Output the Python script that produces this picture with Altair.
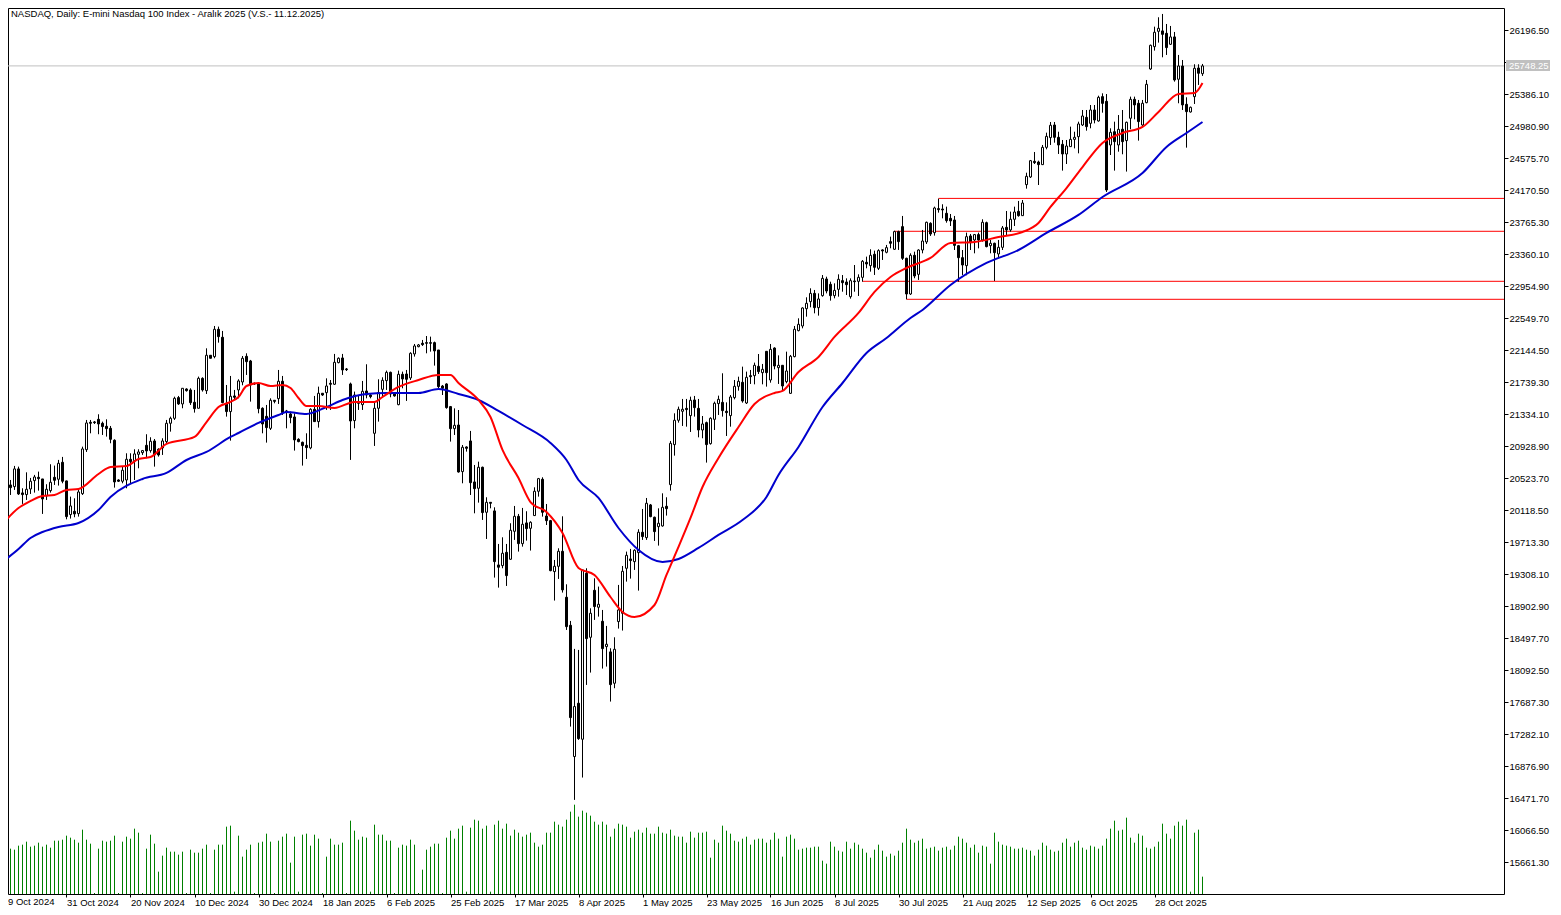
import altair as alt
import pandas as pd

highs = [
20470,20514,20505,20683,20674,20400,20602,20531,20569,20611,
20518,20451,20704,20687,20759,20797,20497,20294,20273,20387,
20927,21265,21265,21252,21337,21244,21273,21189,21020,20514,
20674,20843,20843,20894,20894,20885,21084,21046,21024,20906,
21033,21265,21307,21560,21569,21666,21666,21666,21645,21814,
21805,22172,22084,22455,22447,22392,21708,21822,21645,21780,
22075,22109,22025,21738,21738,21425,21455,21539,21514,21898,
21822,21392,21371,21349,21033,20991,21096,21413,21569,21687,
21603,21792,21771,22101,22058,22101,21923,21738,21624,21581,
21759,21970,21594,21484,21780,21805,21890,21877,21594,21890,
21877,21898,22122,22227,22227,22278,22328,22320,22257,22151,
21708,21729,21442,21412,21391,20948,20931,21126,20695,20737,
20674,20286,20222,20159,19695,19779,19695,19957,20176,20075,
20151,20109,19982,20412,20531,20539,20201,19999,19492,19640,
20045,19184,18720,18366,18353,19366,19387,18880,19260,19155,
18859,18657,18374,18513,19176,19416,19598,19632,19627,19881,
20138,20277,20201,20041,20146,20336,20286,20999,21349,21434,
21531,21531,21560,21569,21531,21315,21244,21299,21497,21573,
21856,21488,21581,21771,21813,21940,21877,21898,21991,22100,
21974,22138,22227,22185,22083,21961,22130,22088,22455,22552,
22691,22818,22932,22911,22868,23100,23079,23016,22995,23109,
23100,23058,23058,23227,23109,23290,23333,23426,23409,23426,
23426,23481,23586,23662,23662,23848,23320,23375,23396,23426,
23671,23776,23768,23966,24067,23996,23966,23873,23848,23481,
23417,23637,23620,23620,23637,23806,23776,23544,23510,23544,
23721,23911,23903,23966,24038,24050,24396,24557,24658,24548,
24747,24903,25038,25038,24915,24810,24810,24979,24915,25042,
25190,25190,25253,25253,25371,25401,25392,24958,25042,25126,
25190,25043,25359,25359,25317,25317,25570,26018,26245,26364,
26406,26279,26254,26178,25887,25823,25351,25233,25769,25769,
25773]

body_tops = [
20455,20455,20442,20645,20645,20341,20387,20489,20543,20539,
20518,20387,20476,20539,20716,20729,20493,20176,20109,20353,
20898,21227,21235,21240,21273,21223,21185,21159,21008,20505,
20628,20767,20767,20835,20860,20877,20944,20995,20999,20894,
20999,21223,21286,21539,21548,21666,21657,21645,21489,21792,
21792,22084,22084,22413,22413,22312,21476,21565,21569,21759,
22046,22071,22012,21729,21721,21413,21311,21514,21514,21755,
21755,21379,21341,21303,21020,20982,20944,21400,21400,21603,
21603,21695,21729,21995,22046,22050,21911,21721,21581,21497,
21628,21632,21581,21413,21611,21767,21868,21868,21594,21843,
21843,21847,22109,22202,22215,22236,22244,22244,22244,22151,
21695,21721,21434,21197,21201,20919,20923,20999,20480,20666,
20666,20222,20222,20113,19429,19577,19589,19868,20045,20045,
19944,19961,19969,20362,20522,20514,20049,19990,19412,19602,
19602,19020,18665,17636,17678,19366,19324,18817,19108,18931,
18716,18425,18328,18361,18859,19349,19551,19505,19615,19843,
19843,20210,20189,20033,19957,20159,20172,20969,21261,21400,
21400,21412,21514,21518,21412,21214,21231,21286,21476,21526,
21488,21375,21556,21691,21754,21742,21805,21826,21957,21944,
21906,22134,22159,22176,21957,21957,21885,22071,22413,22476,
22683,22742,22868,22868,22797,23058,23050,22982,22906,23046,
23029,23012,23029,23025,23071,23274,23261,23350,23363,23409,
23418,23447,23523,23650,23650,23713,23312,23350,23350,23417,
23531,23768,23755,23949,23941,23936,23882,23818,23797,23472,
23320,23586,23595,23612,23612,23768,23763,23502,23502,23451,
23696,23704,23806,23898,23907,24012,24350,24548,24540,24531,
24717,24856,24996,25000,24844,24755,24734,24818,24844,25013,
25114,25097,25190,25190,25350,25359,25300,24907,24915,24945,
24946,25034,25325,25325,25275,25275,25515,26009,26174,26224,
26191,26161,26115,26115,25747,25747,25262,25224,25718,25722,
25748]

body_bottoms = [
20282,20434,20408,20421,20328,20320,20320,20391,20497,20522,
20265,20303,20370,20501,20514,20489,20041,20067,20075,20079,
20332,20889,21223,21231,21214,21181,21155,21020,20480,20489,
20489,20505,20737,20750,20830,20851,20873,20877,20822,20822,
20911,20991,21223,21286,21468,21468,21636,21484,21408,21413,
21645,21636,22046,22067,22320,21484,21371,21371,21552,21645,
21746,22003,21708,21721,21408,21214,21168,21159,21501,21535,
21358,21362,21295,21012,20991,20940,20915,20911,21244,21244,
21581,21611,21717,21717,21991,21898,21902,21252,21257,21476,
21459,21581,21560,21096,21413,21653,21763,21594,21569,21459,
21784,21780,21797,22101,22193,22219,22236,22236,22139,21687,
21666,21421,21155,21155,20606,20611,20906,20471,20395,20400,
20092,20096,20210,19471,19400,19421,19294,19501,19855,19699,
19699,19889,19893,20054,20362,20096,19990,19357,19345,19412,
19113,18648,17496,17003,17230,17222,18496,18513,18902,18893,
18370,18395,17914,17931,18712,18817,19387,19484,19471,19585,
19788,19775,20041,19851,19914,19923,20142,20446,20953,21261,
21375,21396,21320,21421,21138,21138,20953,20965,21273,21472,
21383,21358,21320,21548,21691,21505,21480,21813,21826,21877,
21864,21864,21771,21948,21927,21695,21750,21602,22067,22396,
22455,22674,22763,22687,22687,22839,22898,22839,22839,22919,
23003,22978,22826,23016,23020,23071,23240,23219,23198,23185,
23405,23388,23502,23426,23523,23312,22860,22860,23088,23109,
23417,23519,23620,23637,23928,23924,23789,23785,23476,23320,
23227,23219,23510,23544,23544,23544,23460,23472,23384,23367,
23451,23671,23671,23806,23852,23852,24245,24342,24523,24498,
24498,24717,24840,24844,24747,24633,24633,24726,24818,24852,
25000,24979,25021,25063,25051,25274,24177,24747,24789,24747,
24789,24802,25085,25254,25043,25000,25283,25709,25992,26186,
26148,25980,26022,25570,25579,25254,25169,25165,25359,25655,
25650]

lows = [
20270,20315,20315,20379,20315,20202,20252,20328,20345,20370,
20075,20252,20345,20442,20434,20463,20007,20016,20033,20041,
20315,20860,21096,21214,21084,21075,21054,20970,20408,20480,
20463,20400,20463,20505,20653,20822,20780,20851,20674,20801,
20822,20970,21117,21265,21455,21413,21624,21455,21358,21413,
21624,21594,22046,22046,22244,21476,21307,21003,21518,21539,
21704,21835,21497,21708,21349,21096,20978,21138,21476,21468,
21328,21159,21223,20877,20982,20687,20771,20894,21244,21168,
21569,21392,21392,21708,21982,21835,21885,20759,21159,21392,
21392,21539,21539,20936,21244,21560,21645,21552,21560,21451,
21666,21506,21771,22067,22185,22202,22109,22130,21953,21666,
21581,21408,20991,21075,20598,20463,20864,20315,20083,20218,
19999,19758,20146,19269,19142,19387,19163,19492,19746,19598,
19661,19737,19611,20049,20294,20041,19935,19349,18978,19252,
19079,18606,17382,16454,17214,16737,17910,18066,18733,18775,
18117,18142,17699,17868,18623,18598,19218,19256,19366,19104,
19746,19746,20033,19733,19674,19914,20054,20370,20813,21231,
21189,21180,21113,21307,21045,21033,20725,20953,21138,21328,
21307,21062,21180,21526,21636,21484,21467,21721,21716,21847,
21716,21687,21737,21906,21721,21636,21729,21594,22058,22387,
22425,22573,22691,22615,22586,22826,22868,22776,22805,22826,
22889,22847,22801,22889,22835,23016,23185,23143,23101,23164,
23291,23375,23439,23418,23418,23291,22793,22848,23059,23038,
23375,23493,23595,23599,23890,23818,23763,23721,23417,23016,
23101,23097,23417,23375,23438,23523,23451,23375,23025,23312,
23417,23607,23649,23721,23839,23848,24194,24329,24506,24240,
24493,24692,24747,24776,24633,24422,24506,24726,24704,24641,
24987,24928,24958,25021,25042,25156,24152,24620,24422,24662,
24629,24410,24946,25072,24802,24988,25275,25697,25942,26043,
25857,25887,26013,25549,25275,25190,24713,25157,25266,25507,
25621]

directions = ("BBBWBBWWWB" "BWWBWBBWBW" "WWBBBBBBBB" "WWBWWWBWBB" "WWWWBWBBBW" "BWBWBBBWBW"
              "WBBBBBBWBW" "BBBBBBBWBW" "BWBWWBBBWB" "WBBWWWWBBW" "BBWWWBBBBB" "BBBWBWBBBW"
              "BWBBBWBWWB" "WBWWWBBBWW" "BBBWBWBWBW" "BWBWWWWBWW" "BWBBWWBWWW" "WBWBBWBWWW"
              "BBWWWBWBWB" "WBWBWBWWWW" "WWWBWWBBWW" "BBWBWWBWBW" "BWBWBBBWBW" "WWBWBBBBBB"
              "BWBWBWBWBW" "WBWWBWWWBB" "WWWBBBWWWW" "WBWBWBBWBW" "BWWBBWWWWW" "BBWBWBBWWB" "W")

volumes = [
148,148,136,133,145,148,157,142,145,154,142,148,139,160,160,163,175,169,163,154,
193,163,151,3,136,160,157,160,175,3,157,172,166,196,184,3,136,178,151,67,
115,139,127,127,118,127,3,133,124,124,136,148,3,133,148,148,202,205,7,175,
112,133,148,3,154,157,181,157,3,160,172,181,94,172,7,178,181,145,178,166,
3,112,166,148,148,154,3,220,190,163,172,169,7,208,178,178,160,160,3,139,
148,145,163,148,3,73,133,142,151,151,3,169,190,166,196,205,7,199,223,220,
196,205,7,208,220,196,211,175,193,184,172,178,184,154,142,148,184,184,217,208,
202,223,247,268,232,250,244,235,217,208,217,208,172,196,211,208,202,169,187,193,
184,199,181,181,202,184,181,193,175,172,172,154,187,169,184,184,187,109,163,154,
205,190,181,160,157,166,172,148,163,166,166,154,163,184,166,112,172,178,166,133,
136,139,139,142,142,100,91,157,142,130,127,157,136,154,148,136,124,109,133,148,
130,112,121,115,130,154,196,163,154,160,166,136,139,142,130,139,142,133,145,172,
166,154,139,148,124,145,142,91,184,157,148,145,142,136,136,139,133,130,115,133,
154,145,133,127,130,154,166,142,154,160,139,133,145,142,136,145,166,196,220,190,
193,229,169,154,181,175,139,136,142,157,211,181,166,205,217,205,223,7,184,193,52]

red_bars = [0,4,7,10,13,16,19,24,27,31,34,37,41,48,51,54,57,59,61,64,67,70,72,74,76,79,83,88,93,95,99,
            104,109,112,114,119,122,125,129,132,136,140,144,148,152,155,158,163,166,169,172,175,179,184,
            188,193,195,199,204,208,214,218,222,226,232,237,243,249,255,259,262,266,270,275,280,285,289,294,298,300]
red_ma = [19948,20150,20239,20302,20315,20378,20391,20581,20670,20682,20771,20796,20961,21050,21239,21429,
          21493,21556,21695,21733,21695,21708,21670,21543,21442,21442,21417,21493,21493,21556,21683,
          21771,21835,21835,21733,21518,21303,20885,20530,20226,20100,19834,19391,19302,19023,18834,18770,
          18922,19302,19657,20024,20416,20784,21176,21467,21607,21632,21872,22063,22316,22620,22886,23075,
          23189,23316,23506,23519,23582,23645,23759,23962,24202,24468,24772,24899,24975,25165,25393,25405,25532]

blue_bars = [0,4,7,10,14,19,24,27,35,41,46,51,57,59,64,69,71,76,81,85,91,96,104,109,114,119,124,130,137,141,
             144,149,154,159,165,169,174,179,185,191,194,199,205,210,216,221,227,230,237,246,254,261,269,275,285,291,296,300]
blue_ma = [19467,19631,19771,19846,19910,19960,20125,20290,20518,20594,20758,20860,21050,21100,21227,21328,21366,
           21341,21429,21518,21594,21607,21607,21657,21594,21518,21379,21201,20974,20758,20505,20277,19897,19619,
           19467,19505,19644,19809,19998,20290,20568,20923,21429,21733,22113,22303,22556,22658,22974,23253,23417,
           23633,23861,24088,24392,24722,24899,25038]

level_prices = [24070.5, 23653.9, 23020.7, 22792.8]
level_starts = [234, 223, 215, 226]

price_ticks = [26196.5,25791.3,25386.1,24980.9,24575.7,24170.5,23765.3,23360.1,22954.9,22549.7,22144.5,21739.3,
               21334.1,20928.9,20523.7,20118.5,19713.3,19308.1,18902.9,18497.7,18092.5,17687.3,17282.1,16876.9,
               16471.7,16066.5,15661.3]
date_labels = ["9 Oct 2024","31 Oct 2024","20 Nov 2024","10 Dec 2024","30 Dec 2024","18 Jan 2025","6 Feb 2025",
               "25 Feb 2025","17 Mar 2025","8 Apr 2025","1 May 2025","23 May 2025","16 Jun 2025","8 Jul 2025",
               "30 Jul 2025","21 Aug 2025","12 Sep 2025","6 Oct 2025","28 Oct 2025"]
last_price = 25748.25
title_text = "NASDAQ, Daily:  E-mini Nasdaq 100 Index - Aralık 2025 (V.S.- 11.12.2025)"

FONT = "Liberation Sans"
FS = 9.5
W, H = 1496, 886
xs = alt.Scale(domain=[1.375, 375.375], nice=False, zero=False)
ys = alt.Scale(domain=[15262.4, 26481.4], nice=False, zero=False)
vs = alt.Scale(domain=[0, 2658], nice=False, zero=False)

bars = pd.DataFrame({"i": range(len(highs)), "high": highs, "top": body_tops, "bottom": body_bottoms,
                     "low": lows, "dir": list(directions), "vol": volumes})
bars["left"] = bars["i"] - 0.25
bars["right"] = bars["i"] + 0.25

tick_vals = [16 * k for k in range(1, len(date_labels))]
x_axis = alt.Axis(values=tick_vals, title=None, grid=False, domain=False, orient="bottom",
                  tickColor="black", tickSize=3, labelColor="black", labelFont=FONT, labelFontSize=FS,
                  labelAlign="left", labelBaseline="top", labelPadding=0, labelOverlap=False, labelFlush=False,
                  labelBound=False,
                  labelExpr="[" + ",".join(f"'{d}'" for d in date_labels) + "][round(datum.value/16)]")
y_axis = alt.Axis(values=price_ticks, title=None, grid=False, domain=False, orient="right", format=".2f",
                  tickColor="black", tickSize=4, labelColor="black", labelFont=FONT, labelFontSize=FS,
                  labelPadding=1, labelOverlap=False, labelFlush=False, labelBound=False)
X = alt.X("i:Q", scale=xs, axis=x_axis)
Yn = lambda f: alt.Y(f, type="quantitative", scale=ys, axis=None)

volume = alt.Chart(bars).mark_rule(color="#008000", strokeWidth=1, clip=True).encode(
    x=X, y=alt.Y("vol:Q", scale=vs, axis=None), y2=alt.datum(0))

price_line = alt.Chart(pd.DataFrame({"p": [last_price]})).mark_rule(color="#c0c0c0", strokeWidth=1).encode(
    y=Yn("p"), x=alt.value(0), x2=alt.value(W))

levels = alt.Chart(pd.DataFrame({"p": level_prices, "s": level_starts})).mark_rule(color="#ff0000", strokeWidth=1).encode(
    y=Yn("p"), x=alt.X("s:Q", scale=xs, axis=x_axis), x2=alt.value(W))

wicks = alt.Chart(bars).mark_rule(color="black", strokeWidth=1, clip=True).encode(
    x=X, y=alt.Y("high:Q", scale=ys, axis=y_axis), y2="low:Q")

bodies = alt.Chart(bars).mark_rect(stroke="black", strokeWidth=1, clip=True).encode(
    x=alt.X("left:Q", scale=xs, axis=x_axis), x2="right:Q",
    y=Yn("top"), y2="bottom:Q",
    fill=alt.Fill("dir:N", scale=alt.Scale(domain=["W", "B"], range=["white", "black"]), legend=None))

blue = alt.Chart(pd.DataFrame({"i": blue_bars, "p": blue_ma})).mark_line(
    color="#0000cd", strokeWidth=2, interpolate="monotone").encode(x=X, y=Yn("p"))
red = alt.Chart(pd.DataFrame({"i": red_bars, "p": red_ma})).mark_line(
    color="#ff0000", strokeWidth=2, interpolate="monotone").encode(x=X, y=Yn("p"))

tag = alt.Chart(pd.DataFrame({"p": [last_price]})).mark_rect(color="#c0c0c0").encode(
    x=alt.value(1498), x2=alt.value(1542), y=alt.value(52), y2=alt.value(63))
tag_text = alt.Chart(pd.DataFrame({"t": [f"{last_price:.2f}"]})).mark_text(
    color="white", font=FONT, fontSize=FS, align="left", baseline="middle").encode(
    x=alt.value(1501), y=alt.value(58), text="t:N")
title = alt.Chart(pd.DataFrame({"t": [title_text]})).mark_text(
    color="black", font=FONT, fontSize=FS, align="left", baseline="middle").encode(
    x=alt.value(3), y=alt.value(6), text="t:N")
first_date = alt.Chart(pd.DataFrame({"t": [date_labels[0]]})).mark_text(
    color="black", font=FONT, fontSize=FS, align="left", baseline="top").encode(
    x=alt.value(0), y=alt.value(889), text="t:N")

chart = alt.layer(price_line, levels, volume, wicks, bodies, blue, red, tag, tag_text, title, first_date
    ).resolve_scale(y="independent", fill="independent").properties(
    width=W, height=H, autosize=alt.AutoSizeParams(type="none"),
    padding={"left": 0, "top": 0, "right": 49, "bottom": 13}, background="white"
    ).configure_view(stroke="black", strokeWidth=1)

chart.save("out.html", embed_options={"renderer": "svg", "actions": False})
